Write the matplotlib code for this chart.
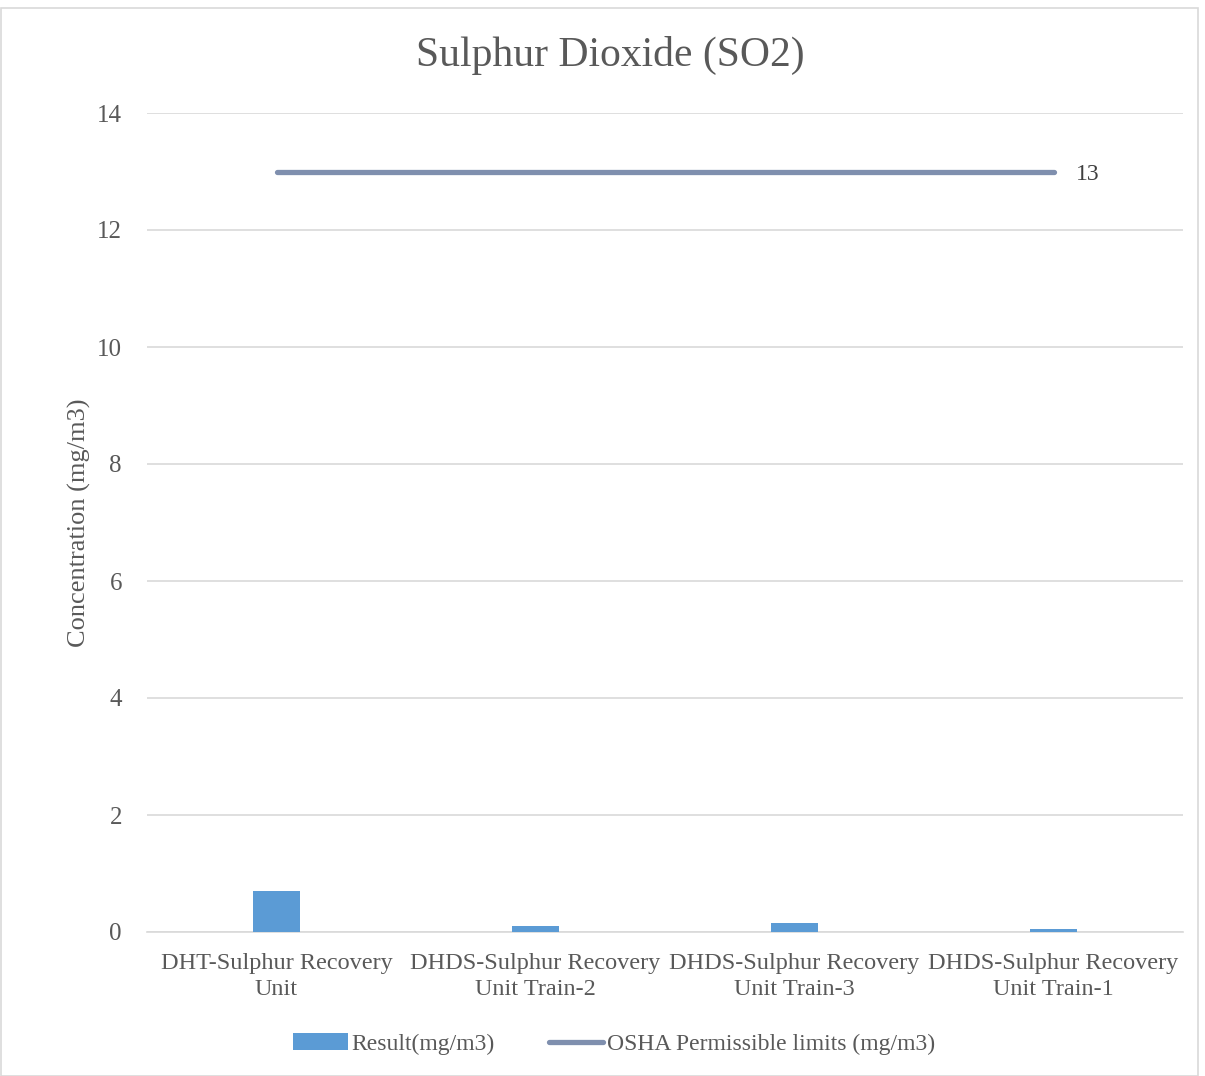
import matplotlib
matplotlib.use("Agg")
import matplotlib.pyplot as plt
from matplotlib.patches import Rectangle

categories = ["DHT-Sulphur Recovery\nUnit", "DHDS-Sulphur Recovery\nUnit Train-2",
              "DHDS-Sulphur Recovery\nUnit Train-3", "DHDS-Sulphur Recovery\nUnit Train-1"]
results = [0.70, 0.10, 0.15, 0.05]
osha_limits = [13, 13, 13, 13]
yticks = [0, 2, 4, 6, 8, 10, 12, 14]

plt.rcParams['font.family'] = ['Liberation Serif', 'DejaVu Serif']
txt = '#595959'

W, H = 1205, 1076
fig = plt.figure(figsize=(W/100, H/100), dpi=100)
ax = fig.add_axes([147/W, (H-932)/H, (1183-147)/W, (932-113)/H])

x = list(range(len(categories)))
bars = ax.bar(x, results, width=0.18, color='#5B9BD5', label='Result(mg/m3)', zorder=3)
line, = ax.plot(x, osha_limits, color='#7F8FAE', lw=3.8, solid_capstyle='round',
                label='OSHA Permissible limits (mg/m3)', zorder=4)
ax.annotate(f"{osha_limits[-1]}", (x[-1], osha_limits[-1]), xytext=(16, -2),
            textcoords='offset points', va='center', ha='left', fontsize=17, color='#404040')

ax.set_xlim(-0.5, 3.5)
ax.set_ylim(0, 14)
ax.set_yticks(yticks)
ax.set_xticks(x)
ax.set_xticklabels(categories, fontsize=17.5, color=txt, linespacing=1.3)
ax.tick_params(axis='y', labelsize=18, labelcolor=txt, length=0, pad=18)
ax.tick_params(axis='x', length=0, pad=15)
ax.grid(axis='y', color='#D9D9D9', lw=1.2, zorder=0)
for s in ['top', 'right', 'left']:
    ax.spines[s].set_visible(False)
ax.spines['bottom'].set_color('#D9D9D9')
ax.spines['bottom'].set_linewidth(1.2)
ax.set_ylabel('Concentration (mg/m3)', fontsize=19, color=txt, labelpad=4)

fig.text(610/W, 1 - 55/H, 'Sulphur Dioxide (SO2)', ha='center', va='center',
         fontsize=30, color=txt)

leg = fig.legend([bars, line], ['Result(mg/m3)', 'OSHA Permissible limits (mg/m3)'],
                 loc='center', bbox_to_anchor=(614/W, 1 - 1044/H), ncol=2, frameon=False,
                 fontsize=17, labelcolor=txt, handlelength=2.3, handletextpad=0.15,
                 columnspacing=2.3)

fig.add_artist(Rectangle((0.5/W, 0.5/H), 1 - 8/W, 1 - 8/H, transform=fig.transFigure,
                         fill=False, edgecolor='#D9D9D9', lw=1.2))

fig.savefig('out.png', dpi=100)
